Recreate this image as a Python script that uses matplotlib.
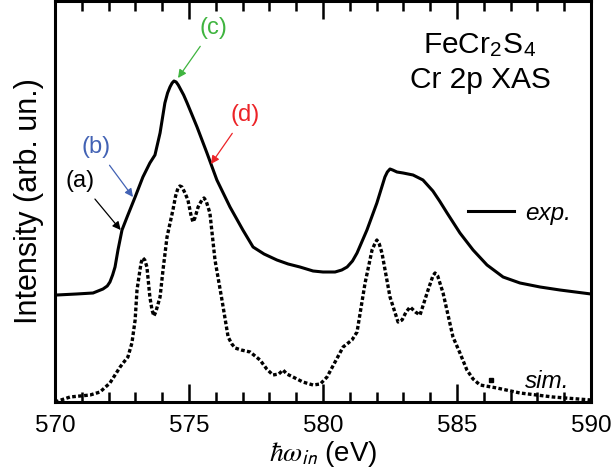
import matplotlib
matplotlib.use("Agg")
import matplotlib.pyplot as plt
from matplotlib.lines import Line2D

plt.rcParams['font.family'] = ['Liberation Sans', 'DejaVu Sans']
plt.rcParams['mathtext.fontset'] = 'stix'

exp_e = [570.07, 570.80, 571.42, 571.79, 571.95, 572.05, 572.15, 572.24, 572.35,
         572.50, 572.69, 572.99, 573.28, 573.54, 573.73, 573.92, 574.10, 574.20,
         574.29, 574.37, 574.44, 574.52, 574.60, 574.66, 574.80, 574.93, 575.10,
         575.30, 575.67, 576.04, 576.53, 577.01, 577.39, 577.80, 578.28, 578.70,
         579.14, 579.63, 580.00, 580.45, 580.70, 580.90, 581.10, 581.27, 581.64,
         582.01, 582.31, 582.40, 582.50, 582.60, 582.76, 582.99, 583.36, 583.73,
         584.10, 584.35, 584.63, 585.11, 585.60, 586.12, 586.72, 587.35, 588.10,
         588.84, 590.00]
exp_i = [1.07, 1.08, 1.09, 1.13, 1.16, 1.20, 1.27, 1.35, 1.52,
         1.72, 1.85, 2.05, 2.25, 2.39, 2.47, 2.69, 2.99, 3.09,
         3.15, 3.19, 3.21, 3.20, 3.17, 3.14, 3.07, 2.99, 2.88,
         2.75, 2.49, 2.22, 1.95, 1.72, 1.55, 1.48, 1.42, 1.38,
         1.35, 1.31, 1.30, 1.30, 1.32, 1.35, 1.41, 1.49, 1.72,
         1.99, 2.25, 2.30, 2.33, 2.32, 2.30, 2.29, 2.27, 2.22,
         2.11, 2.01, 1.89, 1.69, 1.52, 1.37, 1.25, 1.19, 1.15,
         1.12, 1.08]

# simulated spectrum
sim_e = [570.00, 570.56, 571.31, 571.68, 572.05, 572.43, 572.60, 572.72, 572.87,
         572.99, 573.06, 573.17, 573.22, 573.28, 573.35, 573.43, 573.54, 573.62,
         573.69, 573.76, 573.92, 574.03, 574.18, 574.40, 574.50, 574.59, 574.66,
         574.74, 574.85, 574.96, 575.08, 575.15, 575.22, 575.34, 575.48, 575.56,
         575.64, 575.78, 575.97, 576.23, 576.46, 576.60, 576.72, 576.95, 577.28,
         577.65, 577.90, 578.13, 578.35, 578.51, 578.65, 578.88, 579.25, 579.63,
         579.90, 580.15, 580.45, 580.75, 581.08, 581.27, 581.57, 581.83, 581.93,
         582.01, 582.10, 582.20, 582.50, 582.80, 582.95, 583.10, 583.25, 583.45,
         583.62, 583.92, 584.10, 584.18, 584.28, 584.48, 584.85, 585.11, 585.37,
         585.60, 585.86, 586.49, 587.35, 588.58, 590.00]
sim_i = [0.00, 0.05, 0.07, 0.10, 0.19, 0.35, 0.41, 0.45, 0.59,
         0.82, 1.12, 1.32, 1.40, 1.44, 1.42, 1.35, 1.05, 0.92,
         0.86, 0.90, 1.05, 1.32, 1.65, 1.92, 2.06, 2.14, 2.16,
         2.15, 2.09, 2.02, 1.86, 1.80, 1.84, 1.95, 2.02, 2.04,
         2.01, 1.89, 1.42, 1.02, 0.65, 0.58, 0.54, 0.52, 0.50,
         0.42, 0.33, 0.27, 0.28, 0.32, 0.28, 0.25, 0.20, 0.17,
         0.18, 0.25, 0.40, 0.55, 0.62, 0.70, 1.19, 1.52, 1.58,
         1.62, 1.58, 1.49, 1.05, 0.80, 0.82, 0.90, 0.95, 0.90,
         0.87, 1.12, 1.26, 1.29, 1.26, 1.09, 0.65, 0.49, 0.32,
         0.23, 0.17, 0.14, 0.09, 0.05, 0.02]

# labels (a)-(d): text position, arrow tip, colour
ann_labels = ['(a)', '(b)', '(c)', '(d)']
ann_text = [(570.93, 2.21), (571.53, 2.55), (575.90, 3.74), (577.09, 2.87)]
ann_tip = [(572.45, 1.72), (572.91, 2.05), (574.59, 3.24), (575.82, 2.38)]
ann_colors = ['black', '#4262b4', '#3fb43f', '#ec2327']

fig = plt.figure(figsize=(6.15, 4.71), dpi=100)
ax = fig.add_axes([55/615, 69/471, 536/615, 401/471])

ax.plot(exp_e, exp_i, color='black', lw=2.2, solid_joinstyle='round')
ax.plot(sim_e, sim_i, color='black', lw=2.4, linestyle=(0, (1.1, 0.7)))

for lab, xy_t, xy_p, c in zip(ann_labels, ann_text, ann_tip, ann_colors):
    ax.annotate(lab, xy=xy_p, xytext=xy_t, color=c, fontsize=17,
                ha='center', va='center',
                arrowprops=dict(arrowstyle='-|>', color=c, lw=0.9,
                                mutation_scale=12, shrinkA=4, shrinkB=0))

ax.text(585.86, 3.57, r'FeCr$_\mathregular{2}$S$_\mathregular{4}$', fontsize=21.5,
        ha='center', va='center')
ax.text(585.86, 3.22, 'Cr 2p XAS', fontsize=21.5, ha='center', va='center')

h_exp = Line2D([], [], color='black', lw=2.2)
h_sim = Line2D([], [], color='black', marker='s', markersize=2.2, linestyle='none')
ax.legend([h_exp, h_sim], ['exp.', 'sim.'], loc='lower right',
          bbox_to_anchor=(0.99, -0.015), frameon=False,
          prop={'style': 'italic', 'size': 17.5}, handlelength=1.9,
          handletextpad=0.45, labelspacing=6.0, borderpad=0.1)

ax.set_xlim(570, 590)
ax.set_ylim(0, 4.01)
ax.set_xticks([570, 575, 580, 585, 590])
ax.set_xticks(range(570, 591), minor=True)
ax.set_yticks([])
ax.tick_params(axis='x', which='both', direction='in', top=True, width=1.8,
               labelsize=17.5, pad=9)
ax.tick_params(axis='x', which='major', length=13)
ax.tick_params(axis='x', which='minor', length=7)
for s in ax.spines.values():
    s.set_linewidth(2.2)

ax.set_xlabel(r'$\hbar\omega_{\mathsf{in}}$ (eV)', fontsize=20, labelpad=2)
ax.set_ylabel('Intensity (arb. un.)', fontsize=22, labelpad=8)

fig.savefig('out.png', dpi=100)
